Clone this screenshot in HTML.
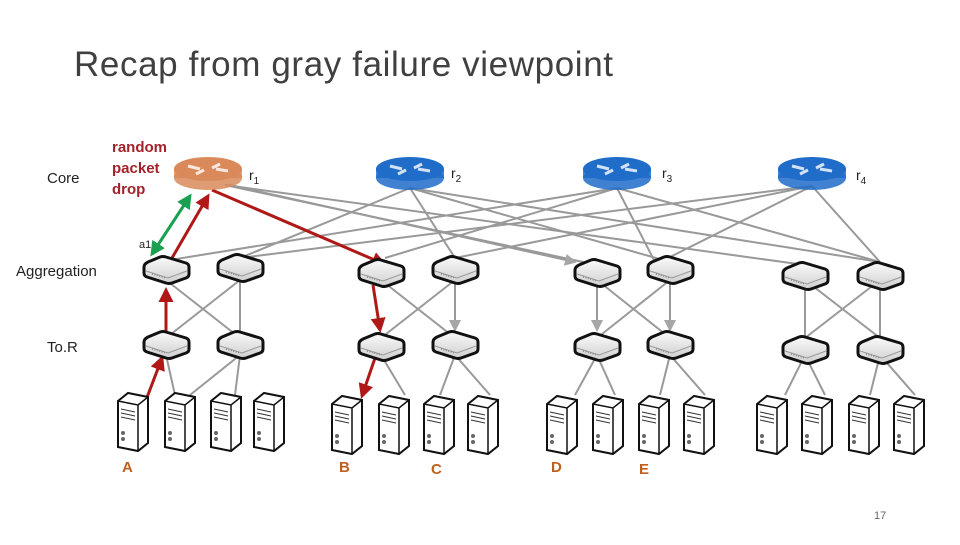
<!DOCTYPE html>
<html><head><meta charset="utf-8"><style>
body{margin:0;width:960px;height:540px;background:#fff;overflow:hidden;font-family:"Liberation Sans",sans-serif}
</style></head><body>
<svg width="960" height="540" viewBox="0 0 960 540" xmlns="http://www.w3.org/2000/svg">
<defs>
<marker id="ag" markerWidth="6" markerHeight="6" refX="5" refY="3" orient="auto" markerUnits="strokeWidth"><path d="M0,0 L6,3 L0,6 Z" fill="#a6a6a6"/></marker>
<marker id="ar" markerWidth="5" markerHeight="5" refX="4" refY="2.5" orient="auto" markerUnits="strokeWidth"><path d="M0,0 L5,2.5 L0,5 Z" fill="#b01818"/></marker>
<marker id="agr" markerWidth="5" markerHeight="5" refX="4" refY="2.5" orient="auto" markerUnits="strokeWidth"><path d="M0,0 L5,2.5 L0,5 Z" fill="#1aa050"/></marker>
<marker id="agrs" markerWidth="5" markerHeight="5" refX="1" refY="2.5" orient="auto" markerUnits="strokeWidth"><path d="M5,0 L0,2.5 L5,5 Z" fill="#1aa050"/></marker>
<linearGradient id="sw" x1="0" y1="0" x2="0" y2="1"><stop offset="0" stop-color="#fafafa"/><stop offset="1" stop-color="#cfcfcf"/></linearGradient>
<g id="switch"><path d="M-22,-3 Q-22,-6 -18,-8 L-6,-13 Q-3,-14 0,-13 L20,-7 Q23,-6 23,-3 L23,4 Q23,7 20,8 L6,13 Q3,14 0,13 L-19,7 Q-22,6 -22,3 Z" fill="url(#sw)" stroke="#111" stroke-width="3"/><path d="M-20,1 L2,8 L21,1" fill="none" stroke="#999" stroke-width="1"/><path d="M-14,4 L0,8" stroke="#888" stroke-width="1.5" stroke-dasharray="1 1.5"/></g>
<g id="server"><path d="M0,8 L10,0 L30,4 L30,50 L20,58 L0,54 Z" fill="#fff" stroke="#111" stroke-width="2"/><path d="M0,8 L20,12 L30,4 M20,12 L20,58" fill="none" stroke="#111" stroke-width="1.5"/><path d="M3,16 L17,19 M3,20 L17,23 M3,24 L17,27" stroke="#333" stroke-width="1"/><circle cx="5" cy="40" r="2" fill="#666"/><circle cx="5" cy="46" r="2" fill="#666"/></g>
<g id="router"><ellipse cx="0" cy="6" rx="34" ry="12" fill="currentColor" opacity="0.85"/><rect x="-34" y="-3" width="68" height="9" fill="currentColor" opacity="0.85"/><ellipse cx="0" cy="-3" rx="34" ry="12" fill="currentColor"/><path d="M-20,-6 L-8,-3 M-12,2 L-4,-2 M20,-1 L8,-3 M12,-8 L4,-4" stroke="#fff" stroke-width="3" opacity="0.8"/></g>
</defs>
<text x="74" y="76" font-size="35" fill="#404040" textLength="539">Recap from gray failure viewpoint</text>
<text x="47" y="183" font-size="15" fill="#222">Core</text>
<text x="16" y="276" font-size="15" fill="#222">Aggregation</text>
<text x="47" y="352" font-size="15" fill="#222">To.R</text>
<g font-size="15" fill="#a3222a" font-weight="bold"><text x="112" y="152">random</text><text x="112" y="173">packet</text><text x="112" y="194">drop</text></g>
<g font-size="14" fill="#222"><text x="249" y="180">r<tspan font-size="10" dy="4">1</tspan></text><text x="451" y="178">r<tspan font-size="10" dy="4">2</tspan></text><text x="662" y="178">r<tspan font-size="10" dy="4">3</tspan></text><text x="856" y="180">r<tspan font-size="10" dy="4">4</tspan></text></g>
<text x="139" y="248" font-size="11" fill="#222">a1</text>
<g stroke="#999" stroke-width="2" fill="none">
<line x1="225" y1="185" x2="597" y2="265"/><line x1="225" y1="185" x2="805" y2="265"/>
<line x1="410" y1="188" x2="240" y2="258"/><line x1="410" y1="188" x2="670" y2="262"/><line x1="410" y1="188" x2="880" y2="262"/><line x1="410" y1="188" x2="455" y2="258"/>
<line x1="617" y1="188" x2="170" y2="260"/><line x1="617" y1="188" x2="385" y2="258"/><line x1="617" y1="188" x2="880" y2="262"/><line x1="617" y1="188" x2="655" y2="262"/>
<line x1="812" y1="186" x2="240" y2="258"/><line x1="812" y1="186" x2="455" y2="258"/><line x1="812" y1="186" x2="660" y2="262"/><line x1="812" y1="186" x2="880" y2="262"/>
<line x1="230" y1="185" x2="575" y2="262" marker-end="url(#ag)"/>
</g>
<g stroke="#999" stroke-width="2">
<line x1="166" y1="280" x2="240" y2="338"/><line x1="240" y1="280" x2="166" y2="338"/><line x1="240" y1="280" x2="240" y2="338"/>
<line x1="381" y1="280" x2="455" y2="338"/><line x1="455" y1="280" x2="381" y2="338"/><line x1="455" y1="280" x2="455" y2="330" marker-end="url(#ag)"/>
<line x1="597" y1="280" x2="597" y2="330" marker-end="url(#ag)"/><line x1="597" y1="280" x2="670" y2="338"/><line x1="670" y1="280" x2="597" y2="338"/><line x1="670" y1="280" x2="670" y2="330" marker-end="url(#ag)"/>
<line x1="805" y1="280" x2="805" y2="338"/><line x1="805" y1="280" x2="880" y2="338"/><line x1="880" y1="280" x2="805" y2="338"/><line x1="880" y1="280" x2="880" y2="338"/>
<line x1="240" y1="355" x2="190" y2="395"/><line x1="240" y1="355" x2="235" y2="395"/><line x1="166" y1="355" x2="175" y2="395"/>
<line x1="381" y1="355" x2="405" y2="395"/><line x1="455" y1="355" x2="440" y2="395"/><line x1="455" y1="355" x2="490" y2="395"/>
<line x1="597" y1="355" x2="575" y2="395"/><line x1="597" y1="355" x2="615" y2="395"/><line x1="670" y1="355" x2="660" y2="395"/><line x1="670" y1="355" x2="705" y2="395"/>
<line x1="805" y1="355" x2="785" y2="395"/><line x1="805" y1="355" x2="825" y2="395"/><line x1="880" y1="355" x2="870" y2="395"/><line x1="880" y1="355" x2="915" y2="395"/>
</g>
<g stroke="#b01818" stroke-width="3" fill="none">
<line x1="146" y1="400" x2="162" y2="358" marker-end="url(#ar)"/>
<line x1="166" y1="332" x2="166" y2="290" marker-end="url(#ar)"/>
<line x1="172" y1="258" x2="208" y2="196" marker-end="url(#ar)"/>
<line x1="212" y1="190" x2="384" y2="264" marker-end="url(#ar)"/>
<line x1="373" y1="285" x2="380" y2="330" marker-end="url(#ar)"/>
<line x1="375" y1="358" x2="362" y2="396" marker-end="url(#ar)"/>
</g>
<line x1="152" y1="254" x2="190" y2="196" stroke="#1aa050" stroke-width="3" marker-end="url(#agr)" marker-start="url(#agrs)"/>
<use href="#router" x="208" y="172" style="color:#d9895a"/>
<use href="#router" x="410" y="172" style="color:#1f6cc9"/>
<use href="#router" x="617" y="172" style="color:#1f6cc9"/>
<use href="#router" x="812" y="172" style="color:#1f6cc9"/>
<g>
<use href="#switch" x="166" y="270"/><use href="#switch" x="240" y="268"/><use href="#switch" x="381" y="273"/><use href="#switch" x="455" y="270"/>
<use href="#switch" x="597" y="273"/><use href="#switch" x="670" y="270"/><use href="#switch" x="805" y="276"/><use href="#switch" x="880" y="276"/>
<use href="#switch" x="166" y="345"/><use href="#switch" x="240" y="345"/><use href="#switch" x="381" y="347"/><use href="#switch" x="455" y="345"/>
<use href="#switch" x="597" y="347"/><use href="#switch" x="670" y="345"/><use href="#switch" x="805" y="350"/><use href="#switch" x="880" y="350"/>
</g>
<g>
<use href="#server" x="118" y="393"/><use href="#server" x="165" y="393"/><use href="#server" x="211" y="393"/><use href="#server" x="254" y="393"/>
<use href="#server" x="332" y="396"/><use href="#server" x="379" y="396"/><use href="#server" x="424" y="396"/><use href="#server" x="468" y="396"/>
<use href="#server" x="547" y="396"/><use href="#server" x="593" y="396"/><use href="#server" x="639" y="396"/><use href="#server" x="684" y="396"/>
<use href="#server" x="757" y="396"/><use href="#server" x="802" y="396"/><use href="#server" x="849" y="396"/><use href="#server" x="894" y="396"/>
</g>
<g font-size="15" fill="#c0601e" font-weight="bold"><text x="122" y="472">A</text><text x="339" y="472">B</text><text x="431" y="474">C</text><text x="551" y="472">D</text><text x="639" y="474">E</text></g>
<text x="874" y="519" font-size="11" fill="#666">17</text>
</svg>
</body></html>
